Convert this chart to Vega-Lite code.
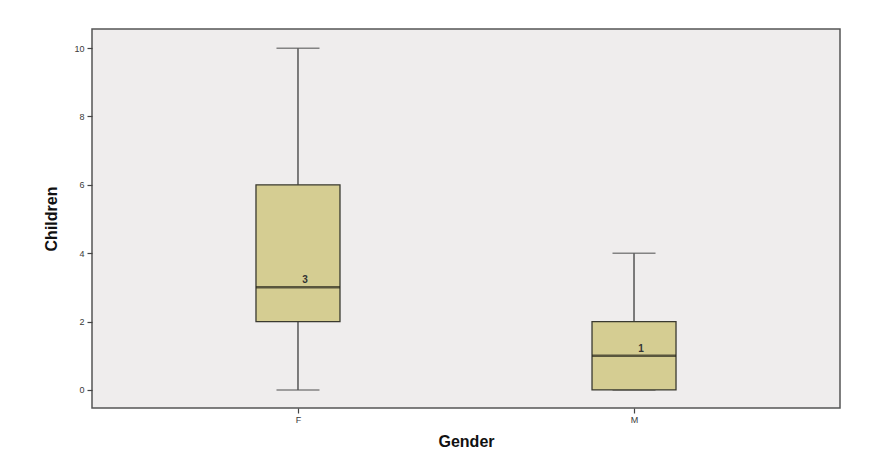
{
  "$schema": "https://vega.github.io/schema/vega-lite/v6.json",
  "autosize": "none",
  "width": 748,
  "height": 379,
  "padding": {"left": 92, "top": 29, "right": 31, "bottom": 55},
  "background": "#ffffff",
  "config": {
    "view": {"fill": "#efeded", "stroke": "#555555", "strokeWidth": 1.5},
    "font": "Liberation Sans",
    "axis": {
      "grid": false,
      "domain": false,
      "tickColor": "#444444",
      "tickSize": 5,
      "tickWidth": 1.2,
      "labelFont": "Liberation Sans",
      "labelFontSize": 9,
      "labelColor": "#3a3a3a",
      "titleFont": "Liberation Sans",
      "titleFontSize": 16,
      "titleFontWeight": "bold",
      "titleColor": "#111111"
    }
  },
  "data": {
    "values": [
      {"Gender": "F", "min": 0, "q1": 2, "median": 3, "q3": 6, "max": 10},
      {"Gender": "M", "min": 0, "q1": 0, "median": 1, "q3": 2, "max": 4}
    ]
  },
  "encoding": {
    "x": {
      "field": "Gender",
      "type": "nominal",
      "scale": {"type": "point", "padding": 0.613},
      "axis": {"labelAngle": 0, "title": "Gender", "titlePadding": 9, "labelPadding": 2}
    }
  },
  "layer": [
    {
      "mark": {"type": "rule", "color": "#555555", "strokeWidth": 1.5},
      "encoding": {
        "y": {
          "field": "min",
          "type": "quantitative",
          "scale": {"domain": [-0.53, 10.56], "nice": false, "zero": false},
          "axis": {"values": [0, 2, 4, 6, 8, 10], "title": "Children", "titlePadding": 14, "labelPadding": 3}
        },
        "y2": {"field": "max"}
      }
    },
    {
      "mark": {"type": "tick", "orient": "horizontal", "size": 43, "thickness": 1.5, "color": "#555555"},
      "encoding": {"y": {"field": "max", "type": "quantitative"}}
    },
    {
      "mark": {"type": "tick", "orient": "horizontal", "size": 43, "thickness": 1.5, "color": "#555555"},
      "encoding": {"y": {"field": "min", "type": "quantitative"}}
    },
    {
      "mark": {"type": "bar", "size": 84, "fill": "#d5cd92", "stroke": "#3a3a30", "strokeWidth": 1.3},
      "encoding": {
        "y": {"field": "q1", "type": "quantitative"},
        "y2": {"field": "q3"}
      }
    },
    {
      "mark": {"type": "tick", "orient": "horizontal", "size": 84, "thickness": 2.5, "color": "#24241a"},
      "encoding": {"y": {"field": "median", "type": "quantitative"}}
    },
    {
      "mark": {"type": "text", "dx": 7, "dy": -7, "fontSize": 10, "fontWeight": "bold", "color": "#333333"},
      "encoding": {
        "y": {"field": "median", "type": "quantitative"},
        "text": {"field": "median", "type": "quantitative"}
      }
    }
  ]
}
